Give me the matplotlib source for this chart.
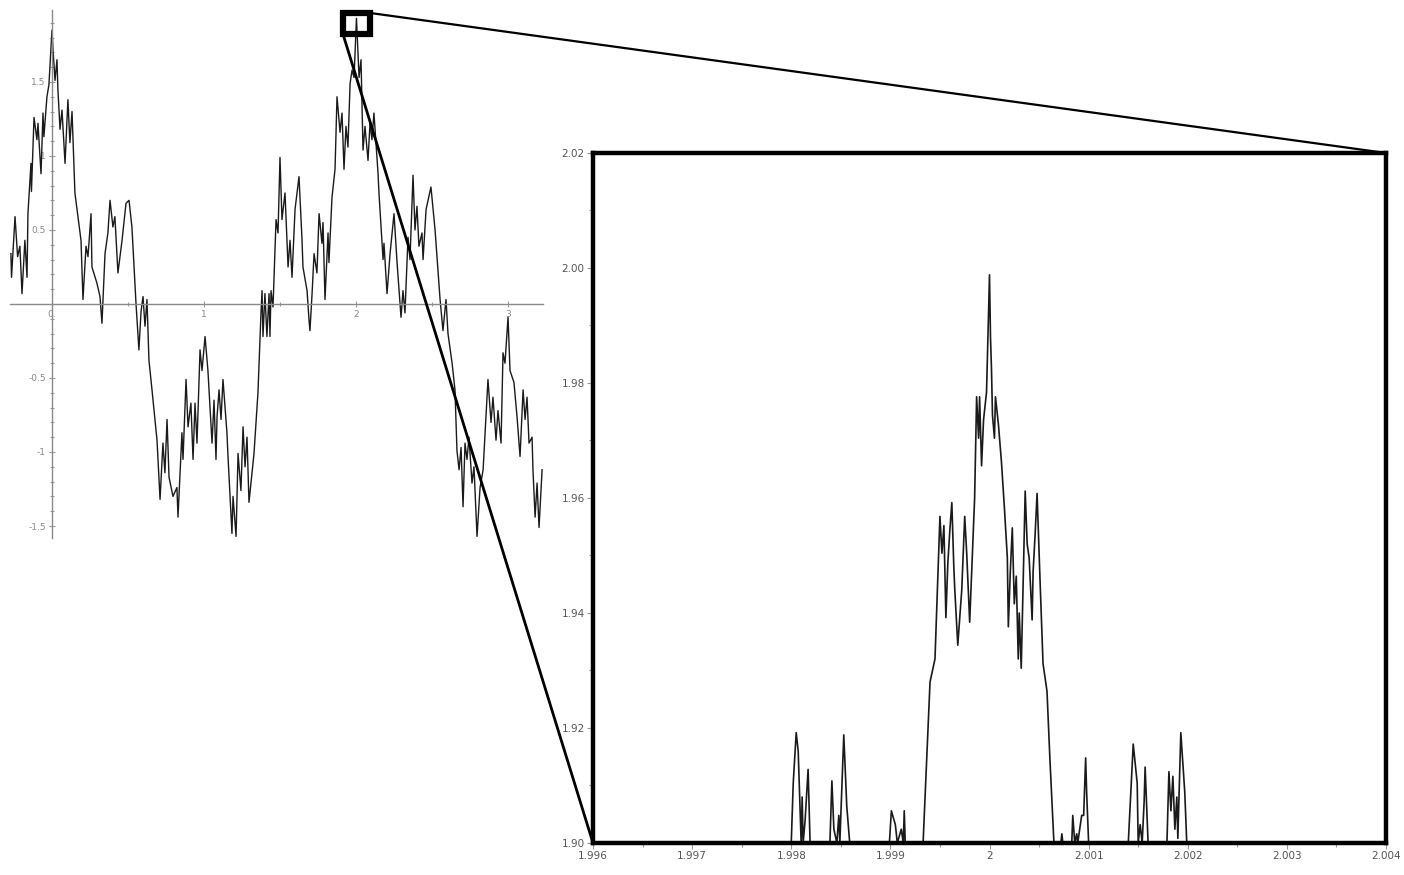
import matplotlib
matplotlib.use("Agg")
import matplotlib.pyplot as plt
from matplotlib.patches import Rectangle, ConnectionPatch
from matplotlib.ticker import MultipleLocator, FixedLocator, FixedFormatter, FuncFormatter

# full curve, x from about -0.27 to 3.22
main_x = [-0.270, -0.266, -0.243, -0.226, -0.211, -0.197, -0.178, -0.164, -0.158, -0.138,
          -0.135, -0.118, -0.099, -0.092, -0.072, -0.059, -0.053, -0.033, -0.020, 0.000,
          0.007, 0.020, 0.033, 0.039, 0.053, 0.066, 0.086, 0.105, 0.118, 0.132,
          0.151, 0.191, 0.204, 0.224, 0.237, 0.257, 0.263, 0.296, 0.316, 0.329,
          0.349, 0.368, 0.382, 0.401, 0.414, 0.434, 0.461, 0.487, 0.507, 0.526,
          0.553, 0.572, 0.586, 0.599, 0.612, 0.625, 0.638, 0.658, 0.691, 0.711,
          0.730, 0.743, 0.757, 0.770, 0.796, 0.822, 0.829, 0.855, 0.862, 0.882,
          0.895, 0.914, 0.928, 0.941, 0.954, 0.974, 0.987, 1.007, 1.026, 1.053,
          1.066, 1.079, 1.086, 1.099, 1.112, 1.125, 1.151, 1.158, 1.184, 1.191,
          1.211, 1.224, 1.243, 1.257, 1.270, 1.283, 1.296, 1.329, 1.355, 1.375,
          1.382, 1.388, 1.401, 1.414, 1.428, 1.434, 1.441, 1.454, 1.474, 1.487,
          1.500, 1.513, 1.533, 1.553, 1.566, 1.579, 1.599, 1.625, 1.645, 1.651,
          1.678, 1.691, 1.697, 1.711, 1.724, 1.743, 1.757, 1.776, 1.783, 1.796,
          1.816, 1.822, 1.842, 1.862, 1.875, 1.895, 1.908, 1.921, 1.934, 1.947,
          1.961, 1.974, 1.987, 2.003, 2.020, 2.033, 2.046, 2.059, 2.079, 2.092,
          2.105, 2.118, 2.145, 2.151, 2.178, 2.184, 2.204, 2.224, 2.250, 2.270,
          2.296, 2.309, 2.322, 2.342, 2.355, 2.375, 2.388, 2.401, 2.414, 2.434,
          2.441, 2.461, 2.493, 2.520, 2.553, 2.572, 2.592, 2.605, 2.632, 2.651,
          2.664, 2.678, 2.691, 2.704, 2.717, 2.730, 2.743, 2.763, 2.776, 2.796,
          2.816, 2.836, 2.868, 2.888, 2.901, 2.921, 2.934, 2.954, 2.967, 2.980,
          3.000, 3.013, 3.039, 3.059, 3.079, 3.099, 3.112, 3.125, 3.138, 3.158,
          3.164, 3.178, 3.191, 3.204, 3.224]
main_y = [0.34, 0.18, 0.59, 0.32, 0.39, 0.07, 0.43, 0.18, 0.61, 0.95,
          0.76, 1.26, 1.11, 1.22, 0.88, 1.29, 1.13, 1.40, 1.48, 1.85,
          1.72, 1.51, 1.65, 1.45, 1.18, 1.31, 0.95, 1.38, 1.09, 1.30,
          0.75, 0.43, 0.03, 0.39, 0.32, 0.61, 0.25, 0.14, 0.05, -0.13,
          0.34, 0.48, 0.70, 0.52, 0.59, 0.21, 0.43, 0.68, 0.70, 0.52,
          0.00, -0.31, -0.05, 0.05, -0.15, 0.03, -0.38, -0.58, -0.92, -1.32,
          -0.94, -1.14, -0.78, -1.17, -1.30, -1.24, -1.44, -0.87, -1.05, -0.51,
          -0.83, -0.67, -1.05, -0.67, -0.94, -0.31, -0.45, -0.22, -0.45, -0.94,
          -0.65, -1.05, -0.76, -0.58, -0.78, -0.51, -0.87, -1.03, -1.55, -1.30,
          -1.57, -1.01, -1.26, -0.83, -1.10, -0.90, -1.34, -1.01, -0.60, -0.06,
          0.09, -0.22, 0.07, -0.22, 0.07, -0.22, 0.09, -0.02, 0.57, 0.48,
          0.99, 0.57, 0.75, 0.25, 0.43, 0.18, 0.64, 0.86, 0.43, 0.25,
          0.09, -0.11, -0.18, 0.07, 0.34, 0.21, 0.61, 0.41, 0.55, 0.03,
          0.48, 0.28, 0.72, 0.91, 1.40, 1.16, 1.29, 0.91, 1.20, 1.06,
          1.49, 1.58, 1.53, 1.93, 1.53, 1.65, 1.04, 1.20, 0.97, 1.22,
          1.11, 1.29, 0.88, 0.75, 0.30, 0.41, 0.07, 0.34, 0.61, 0.28,
          -0.09, 0.09, -0.06, 0.45, 0.30, 0.87, 0.50, 0.66, 0.39, 0.48,
          0.30, 0.64, 0.79, 0.50, 0.03, -0.18, 0.03, -0.20, -0.40, -0.58,
          -0.99, -1.12, -0.97, -1.37, -0.94, -1.05, -0.90, -1.21, -1.10, -1.57,
          -1.24, -1.12, -0.51, -0.80, -0.63, -0.92, -0.72, -0.94, -0.33, -0.40,
          -0.09, -0.45, -0.53, -0.76, -1.03, -0.58, -0.78, -0.63, -0.94, -0.90,
          -1.12, -1.44, -1.21, -1.51, -1.12]

# close-up around the peak at x = 2
zoom_x = [1.99600, 1.99800, 1.99802, 1.99805, 1.99807, 1.99810, 1.99811, 1.99812, 1.99814, 1.99817,
          1.99819, 1.99839, 1.99841, 1.99843, 1.99846, 1.99848, 1.99849, 1.99853, 1.99856, 1.99859,
          1.99899, 1.99901, 1.99905, 1.99907, 1.99911, 1.99913, 1.99914, 1.99915, 1.99933, 1.99940,
          1.99945, 1.99950, 1.99952, 1.99954, 1.99956, 1.99958, 1.99960, 1.99962, 1.99964, 1.99965,
          1.99968, 1.99970, 1.99972, 1.99975, 1.99977, 1.99980, 1.99985, 1.99987, 1.99989, 1.99990,
          1.99992, 1.99994, 1.99997, 2.00000, 2.00001, 2.00002, 2.00003, 2.00005, 2.00006, 2.00009,
          2.00012, 2.00015, 2.00018, 2.00019, 2.00021, 2.00023, 2.00025, 2.00027, 2.00029, 2.00030,
          2.00032, 2.00034, 2.00036, 2.00038, 2.00040, 2.00043, 2.00044, 2.00046, 2.00048, 2.00051,
          2.00054, 2.00058, 2.00061, 2.00065, 2.00072, 2.00073, 2.00074, 2.00083, 2.00084, 2.00086,
          2.00088, 2.00089, 2.00093, 2.00095, 2.00097, 2.00098, 2.00100, 2.00140, 2.00145, 2.00149,
          2.00150, 2.00152, 2.00154, 2.00156, 2.00157, 2.00160, 2.00179, 2.00181, 2.00183, 2.00185,
          2.00187, 2.00189, 2.00190, 2.00193, 2.00197, 2.00199, 2.00400]
zoom_y = [1.9000, 1.9000, 1.9104, 1.9192, 1.9160, 1.9000, 1.9080, 1.9000, 1.9040, 1.9128,
          1.9000, 1.9000, 1.9108, 1.9024, 1.9000, 1.9048, 1.9000, 1.9188, 1.9064, 1.9000,
          1.9000, 1.9056, 1.9032, 1.9000, 1.9024, 1.9000, 1.9056, 1.9000, 1.9000, 1.9280,
          1.9320, 1.9568, 1.9504, 1.9552, 1.9392, 1.9488, 1.9544, 1.9592, 1.9480, 1.9440,
          1.9344, 1.9392, 1.9440, 1.9568, 1.9504, 1.9384, 1.9600, 1.9776, 1.9704, 1.9776,
          1.9656, 1.9736, 1.9784, 1.9988, 1.9880, 1.9824, 1.9744, 1.9704, 1.9776, 1.9728,
          1.9664, 1.9584, 1.9496, 1.9376, 1.9472, 1.9548, 1.9416, 1.9464, 1.9320, 1.9400,
          1.9304, 1.9456, 1.9612, 1.9520, 1.9496, 1.9388, 1.9472, 1.9536, 1.9608, 1.9456,
          1.9312, 1.9264, 1.9144, 1.9000, 1.9000, 1.9016, 1.9000, 1.9000, 1.9048, 1.9000,
          1.9016, 1.9000, 1.9048, 1.9048, 1.9148, 1.9088, 1.9000, 1.9000, 1.9172, 1.9104,
          1.9000, 1.9032, 1.9000, 1.9072, 1.9132, 1.9000, 1.9000, 1.9124, 1.9056, 1.9116,
          1.9024, 1.9080, 1.9008, 1.9192, 1.9088, 1.9000, 1.9000]

main_xticks = [0, 1, 2, 3]
main_xlabels = ["0.", "1", "2", "3"]
main_yticks = [-1.5, -1, -0.5, 0.5, 1, 1.5]
main_ylabels = ["-1.5", "-1", "-0.5", "0.5", "1", "1.5"]

W, H = 1404, 875
fig = plt.figure(figsize=(W / 100, H / 100), dpi=100)
fig.patch.set_facecolor("white")


def px_axes(left, top, right, bottom):
    return fig.add_axes([left / W, 1 - bottom / H, (right - left) / W, (bottom - top) / H])


# ---- overview plot with axes crossing at the origin ----
ax = px_axes(10, 10, 543, 538)
ax.plot(main_x, main_y, color="#1a1a1a", lw=1.0)
ax.set_xlim(-0.276, 3.230)
ax.set_ylim(-1.581, 1.986)
for side in ("top", "right"):
    ax.spines[side].set_visible(False)
for side in ("left", "bottom"):
    ax.spines[side].set_position("zero")
    ax.spines[side].set_color("#8a8a8a")
    ax.spines[side].set_linewidth(1.0)
ax.xaxis.set_major_locator(FixedLocator(main_xticks))
ax.xaxis.set_major_formatter(FixedFormatter(main_xlabels))
ax.xaxis.set_minor_locator(MultipleLocator(0.5))
ax.yaxis.set_major_locator(FixedLocator(main_yticks))
ax.yaxis.set_major_formatter(FixedFormatter(main_ylabels))
ax.yaxis.set_minor_locator(MultipleLocator(0.1))
ax.tick_params(which="both", direction="inout", color="#9a9a9a", width=0.8)
ax.tick_params(which="major", length=5, labelsize=6.5, labelcolor="#8a8a8a", pad=2)
ax.tick_params(which="minor", length=3)
ax.patch.set_alpha(0)

# marker for the magnified region
box = Rectangle((1.914, 1.824), 0.178, 0.142, fill=False, edgecolor="black",
                lw=4.5, clip_on=False, zorder=5)
ax.add_patch(box)

# ---- magnified view ----
axz = px_axes(593, 153, 1386, 843)
axz.plot(zoom_x, zoom_y, color="#1a1a1a", lw=1.2)
axz.set_xlim(1.996, 2.004)
axz.set_ylim(1.90, 2.02)
for s in axz.spines.values():
    s.set_linewidth(3.2)
    s.set_color("black")
axz.xaxis.set_major_locator(MultipleLocator(0.001))
axz.xaxis.set_minor_locator(MultipleLocator(0.0005))
axz.xaxis.set_major_formatter(FuncFormatter(lambda v, p: f"{v:.3f}".rstrip("0").rstrip(".")))
axz.yaxis.set_major_locator(MultipleLocator(0.02))
axz.yaxis.set_minor_locator(MultipleLocator(0.01))
axz.yaxis.set_major_formatter(FuncFormatter(lambda v, p: f"{v:.2f}"))
axz.tick_params(which="both", direction="out", color="#9a9a9a", width=0.8)
axz.tick_params(which="major", length=4, labelsize=7.5, labelcolor="#555555", pad=2)
axz.tick_params(which="minor", length=3)

# lines joining the marker box to the magnified view
for pa, pb, lw in [((2.092, 1.966), (2.004, 2.02), 1.6),
                   ((1.914, 1.824), (1.996, 1.90), 2.0)]:
    con = ConnectionPatch(xyA=pa, coordsA=ax.transData, xyB=pb, coordsB=axz.transData,
                          color="black", lw=lw, zorder=6)
    fig.add_artist(con)

fig.savefig("out.png", dpi=100, facecolor="white")
